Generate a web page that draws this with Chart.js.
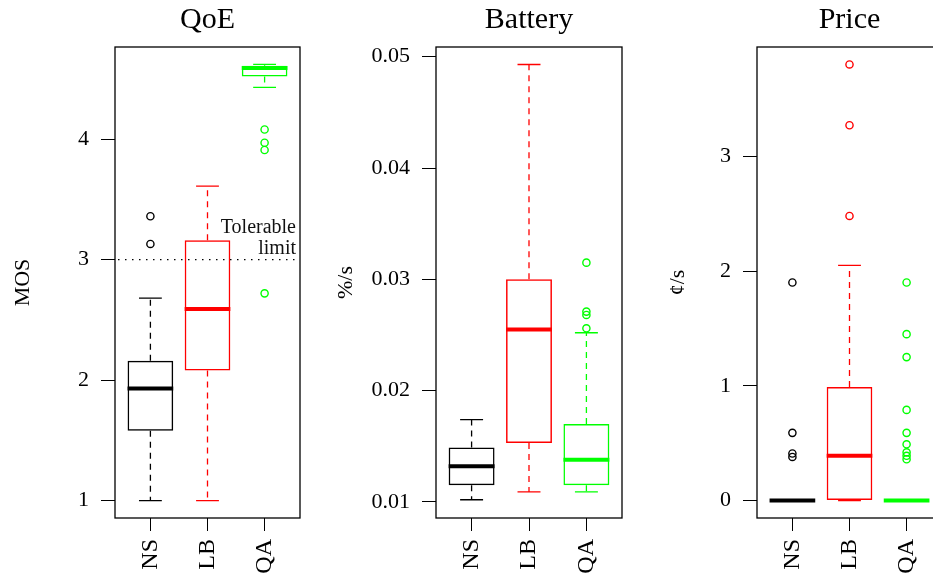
<!DOCTYPE html>
<html><head><meta charset="utf-8">
<script src="https://cdn.jsdelivr.net/npm/chart.js@4/dist/chart.umd.min.js"></script>
<style>
html,body{margin:0;padding:0;background:#fff;width:933px;height:581px;overflow:hidden;position:relative}
canvas{position:absolute;top:0}
</style></head><body>
<canvas id="c1" width="310" height="581" style="left:0px"></canvas>
<canvas id="c2" width="312" height="581" style="left:320px"></canvas>
<canvas id="c3" width="312" height="581" style="left:640px"></canvas>
<script>
// ---------- data ----------
const categories = ['NS', 'LB', 'QA'];
const boxColors = ['#000000', '#ff0000', '#00ff00'];

// QoE (MOS)
const qoeWhiskerLow  = [1.00, 1.00, 4.43];
const qoeQ1          = [1.58, 2.08, 4.52];
const qoeMedian      = [1.93, 2.59, 4.59];
const qoeQ3          = [2.16, 3.16, 4.61];
const qoeWhiskerHigh = [2.68, 3.61, 4.62];
const qoeOutliers    = [[3.13, 3.36], [], [2.72, 3.91, 3.97, 4.08]];
const qoeTicks       = [1, 2, 3, 4];
const tolerableLimit = 3;

// Battery (%/s)
const batteryWhiskerLow  = [0.0102, 0.0109, 0.0109];
const batteryQ1          = [0.0115, 0.0153, 0.0115];
const batteryMedian      = [0.0132, 0.0255, 0.0138];
const batteryQ3          = [0.0149, 0.0300, 0.0170];
const batteryWhiskerHigh = [0.0174, 0.0493, 0.0252];
const batteryOutliers    = [[], [], [0.0256, 0.0268, 0.0271, 0.0315]];
const batteryTicks       = [0.01, 0.02, 0.03, 0.04, 0.05];

// Price (¢/s)
const priceWhiskerLow  = [0, 0, 0];
const priceQ1          = [0, 0, 0];
const priceMedian      = [0, 0.39, 0];
const priceQ3          = [0, 0.99, 0];
const priceWhiskerHigh = [0, 2.05, 0];
const priceOutliers    = [[0.38, 0.41, 0.59, 1.90], [2.48, 3.27, 3.80], [0.36, 0.39, 0.42, 0.49, 0.59, 0.79, 1.25, 1.45, 1.90]];
const priceTicks       = [0, 1, 2, 3];

// ---------- drawing ----------
const FONT = "'Liberation Serif', 'DejaVu Serif', serif";

function makeChart(id, o) {
  const xs = categories.map((c, i) => i + 1);
  const boxData = xs.map((x, i) => ({x: x, y: [o.q1[i], o.q3[i]]}));
  const outPts = [], outCols = [];
  o.outliers.forEach((arr, i) => arr.forEach(v => { outPts.push({x: i + 1, y: v}); outCols.push(boxColors[i]); }));

  const boxPlugin = {
    id: 'boxStats',
    afterDatasetsDraw(chart) {
      const ctx = chart.ctx, ys = chart.scales.y;
      const py = v => ys.getPixelForValue(v);
      chart.getDatasetMeta(0).data.forEach((bar, i) => {
        const cx = bar.x, w = bar.width, col = boxColors[i];
        ctx.save();
        ctx.strokeStyle = col;
        ctx.lineWidth = 1.3;
        ctx.setLineDash([6, 5]);
        ctx.beginPath();
        ctx.moveTo(cx, py(o.q3[i])); ctx.lineTo(cx, py(o.whiskerHigh[i]));
        ctx.moveTo(cx, py(o.q1[i])); ctx.lineTo(cx, py(o.whiskerLow[i]));
        ctx.stroke();
        ctx.setLineDash([]);
        ctx.beginPath();
        ctx.moveTo(cx - w / 4, py(o.whiskerHigh[i])); ctx.lineTo(cx + w / 4, py(o.whiskerHigh[i]));
        ctx.moveTo(cx - w / 4, py(o.whiskerLow[i])); ctx.lineTo(cx + w / 4, py(o.whiskerLow[i]));
        ctx.stroke();
        ctx.lineWidth = 4;
        ctx.beginPath();
        ctx.moveTo(cx - w / 2, py(o.median[i])); ctx.lineTo(cx + w / 2, py(o.median[i]));
        ctx.stroke();
        ctx.restore();
      });
    },
    afterDraw(chart) {
      const ctx = chart.ctx, a = chart.chartArea;
      ctx.save();
      ctx.strokeStyle = '#000';
      ctx.lineWidth = 1.3;
      ctx.strokeRect(a.left, a.top, a.right - a.left, a.bottom - a.top);
      if (o.limit !== undefined) {
        const y = chart.scales.y.getPixelForValue(o.limit);
        ctx.setLineDash([1.5, 5.5]);
        ctx.lineWidth = 1.3;
        ctx.beginPath(); ctx.moveTo(a.left + 3, y); ctx.lineTo(a.right - 1, y); ctx.stroke();
        ctx.setLineDash([]);
        ctx.fillStyle = '#111';
        ctx.font = '20px ' + FONT;
        ctx.textAlign = 'right';
        ctx.textBaseline = 'alphabetic';
        ctx.fillText('Tolerable', a.right - 4, y - 27);
        ctx.fillText('limit', a.right - 4, y - 6);
      }
      ctx.restore();
    }
  };

  return new Chart(document.getElementById(id), {
    type: 'bar',
    data: {
      datasets: [
        {
          type: 'bar', data: boxData,
          backgroundColor: 'rgba(255,255,255,0)',
          borderColor: boxColors, borderWidth: 1.5, borderSkipped: false,
          categoryPercentage: 1.0, barPercentage: 0.8
        },
        {
          type: 'scatter', data: outPts, showLine: false,
          pointStyle: 'circle', pointRadius: 3.6, pointBorderWidth: 1.4,
          pointBorderColor: outCols, pointBackgroundColor: 'rgba(255,255,255,0)'
        }
      ]
    },
    options: {
      responsive: false, animation: false, devicePixelRatio: 1,
      layout: {padding: {left: 0, right: 10, top: 0, bottom: 0}},
      plugins: {
        legend: {display: false}, tooltip: {enabled: false},
        title: {display: true, text: o.title, fullSize: false, color: '#000',
          font: {family: FONT, size: 30, weight: 'normal'}, padding: {top: 2, bottom: 9}}
      },
      scales: {
        x: {
          type: 'linear', min: 0.38, max: 3.62, offset: false,
          afterBuildTicks: s => { s.ticks = xs.map(v => ({value: v})); },
          afterFit: s => { s.height = 63; },
          grid: {offset: false, drawOnChartArea: false, drawTicks: true, tickLength: 13, color: '#000', lineWidth: 1},
          border: {display: false},
          ticks: {autoSkip: false, maxRotation: 90, minRotation: 90, padding: 8,
            font: {family: FONT, size: 24}, color: '#000',
            callback: v => categories[Math.round(v) - 1]}
        },
        y: {
          type: 'linear', min: o.ymin, max: o.ymax,
          afterBuildTicks: s => { s.ticks = o.ticks.map(v => ({value: v})); },
          afterFit: s => { s.width = o.axisWidth; },
          grid: {drawOnChartArea: false, drawTicks: true, tickLength: 14, color: '#000', lineWidth: 1},
          border: {display: false},
          ticks: {autoSkip: false, padding: 12, font: {family: FONT, size: 22}, color: '#000',
            callback: v => o.fmt(v)},
          title: {display: true, text: o.ylabel, color: '#000',
            font: {family: FONT, size: 22}, padding: {top: o.titlePad, bottom: 0}}
        }
      }
    },
    plugins: [boxPlugin]
  });
}

makeChart('c1', {
  title: 'QoE', ylabel: 'MOS', axisWidth: 115, titlePad: 10,
  ymin: 0.855, ymax: 4.765, ticks: qoeTicks, fmt: v => String(v),
  whiskerLow: qoeWhiskerLow, q1: qoeQ1, median: qoeMedian, q3: qoeQ3, whiskerHigh: qoeWhiskerHigh,
  outliers: qoeOutliers, limit: tolerableLimit
});
makeChart('c2', {
  title: 'Battery', ylabel: '%/s', axisWidth: 116, titlePad: 13,
  ymin: 0.00856, ymax: 0.05087, ticks: batteryTicks, fmt: v => v.toFixed(2),
  whiskerLow: batteryWhiskerLow, q1: batteryQ1, median: batteryMedian, q3: batteryQ3, whiskerHigh: batteryWhiskerHigh,
  outliers: batteryOutliers
});
makeChart('c3', {
  title: 'Price', ylabel: '¢/s', axisWidth: 117, titlePad: 25,
  ymin: -0.152, ymax: 3.952, ticks: priceTicks, fmt: v => String(v),
  whiskerLow: priceWhiskerLow, q1: priceQ1, median: priceMedian, q3: priceQ3, whiskerHigh: priceWhiskerHigh,
  outliers: priceOutliers
});
</script>
</body></html>
